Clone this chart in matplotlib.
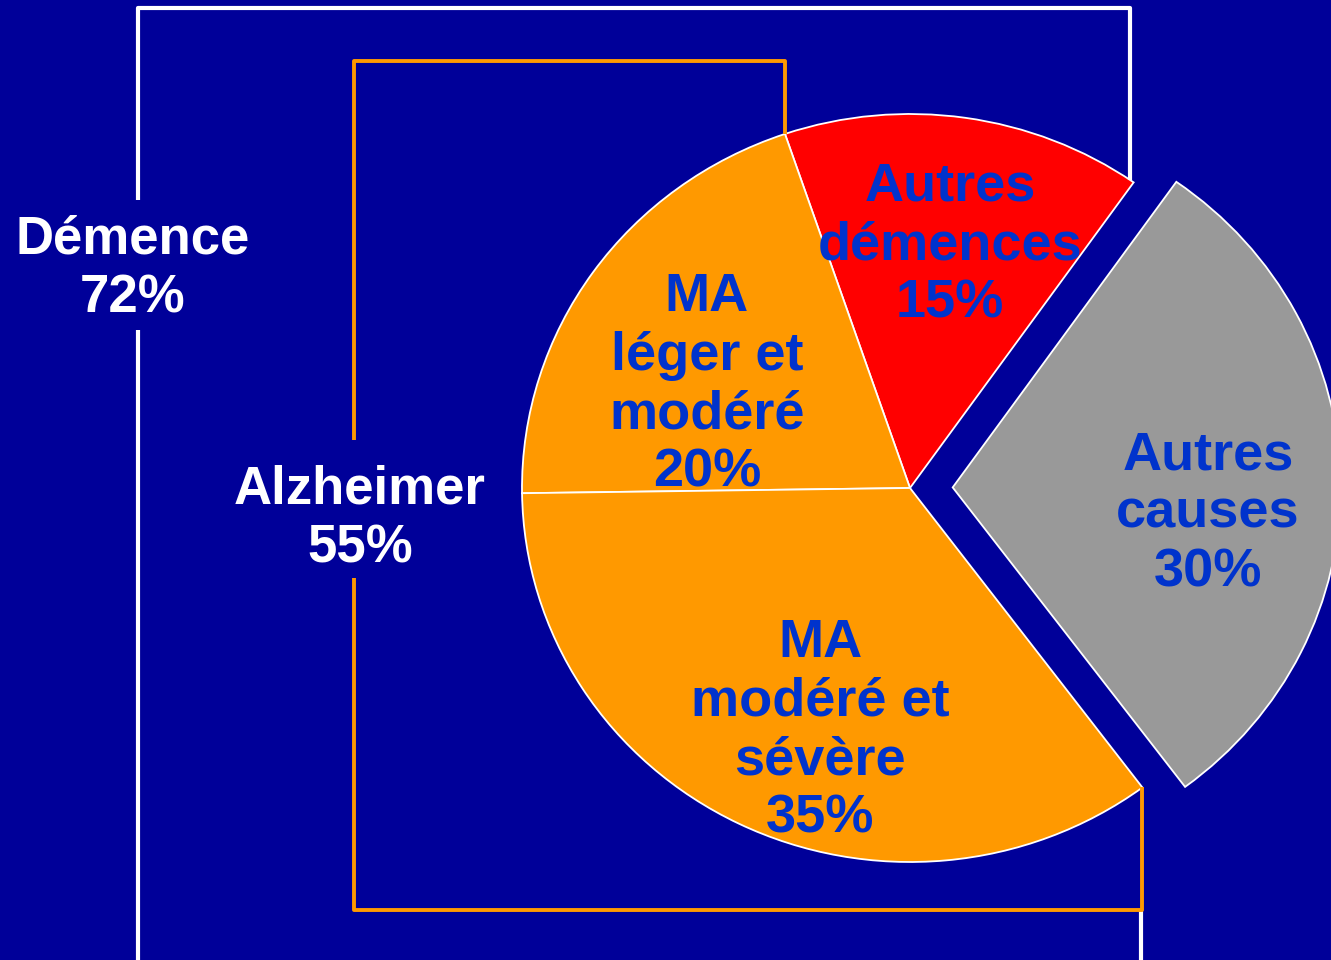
import matplotlib
matplotlib.use("Agg")
import matplotlib.pyplot as plt

# parts of the pie (counterclockwise from the lower right)
labels = ["Autres\ncauses\n30%", "Autres\ndémences\n15%",
          "MA\nléger et\nmodéré\n20%", "MA\nmodéré et\nsévère\n35%"]
values = [30, 15, 20, 35]
colors = ["#999999", "#ff0000", "#ff9900", "#ff9900"]
explode = [0.11, 0, 0, 0]

# text positions in pixels (image coords)
label_pos = [(1208, 514), (950, 245), (707, 385), (820, 731)]
groups = ["Démence\n72%", "Alzheimer\n55%"]
group_pos = [(133, 269), (360, 519)]

bg = "#000099"
W, H = 1331, 960
cx, cy, rx, ry = 910, 488, 388, 374

plt.rcParams["font.family"] = ["Liberation Sans", "DejaVu Sans"]
fig = plt.figure(figsize=(W / 100, H / 100), dpi=100, facecolor=bg)

# pie axes, scaled so the unit circle matches the picture
pax = fig.add_axes([0, 0, 1, 1])
pax.pie(values, colors=colors, explode=explode, startangle=-53.2,
        counterclock=True, frame=True,
        wedgeprops=dict(edgecolor="white", linewidth=1.3))
pax.set_aspect("auto")
pax.set_xlim(-cx / rx, (W - cx) / rx)
pax.set_ylim(-(H - cy) / ry, cy / ry)
pax.axis("off")

# overlay axes in pixel coords for brackets and text
ax = fig.add_axes([0, 0, 1, 1])
ax.set_xlim(0, W)
ax.set_ylim(H, 0)
ax.axis("off")
ax.patch.set_alpha(0)

white = dict(color="white", lw=3.0, solid_capstyle="butt")
orange = dict(color="#ff9900", lw=2.8, solid_capstyle="butt")
# Démence bracket
ax.plot([138, 138, 1130, 1130], [200, 8, 8, 180], **white)
ax.plot([138, 138], [330, 965], **white)
ax.plot([1141, 1141], [910, 965], **white)
# Alzheimer bracket
ax.plot([354, 354, 785, 785], [440, 61, 61, 134], **orange)
ax.plot([354, 354, 1142, 1142], [578, 910, 910, 787], **orange)

for t, (x, y) in zip(groups, group_pos):
    ax.text(x, y, t, color="white", fontsize=38, fontweight="bold",
            ha="center", va="center", linespacing=1.22)
for t, (x, y) in zip(labels, label_pos):
    ax.text(x, y, t, color="#0033cc", fontsize=39, fontweight="bold",
            ha="center", va="center", linespacing=1.22)

fig.savefig("out.png", dpi=100, facecolor=bg)
